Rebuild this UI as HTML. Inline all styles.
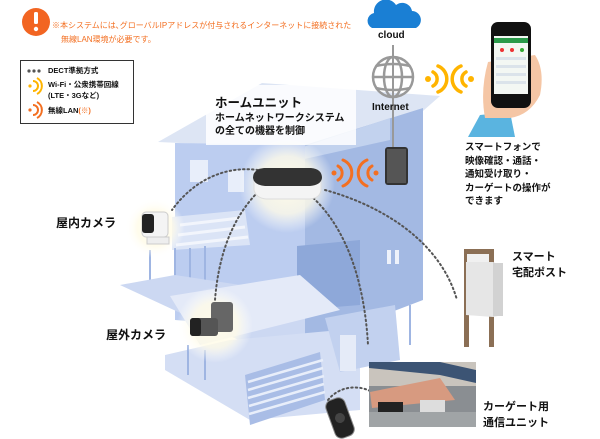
<!DOCTYPE html>
<html><head><meta charset="utf-8"><style>
html,body{margin:0;padding:0;background:#fff;}
body{width:600px;height:439px;overflow:hidden;position:relative;font-family:"Liberation Sans","Noto Sans CJK JP",sans-serif;}
.t{position:absolute;white-space:nowrap;color:#111;font-weight:bold;}
</style></head><body>
<svg width="600" height="439" style="position:absolute;left:0;top:0">
<defs>
<radialGradient id="glow"><stop offset="0" stop-color="#fffbe8"/><stop offset="0.6" stop-color="#fffbe8" stop-opacity="0.8"/><stop offset="1" stop-color="#fff" stop-opacity="0"/></radialGradient>
</defs>
<!-- roof -->
<polygon points="158,142 262,83 440,96 390,140 310,150 225,145" fill="#dde5f4"/>
<!-- right wall -->
<polygon points="305,145 423,108 423,300 305,345" fill="#a3b9e3"/>
<polygon points="300,148 390,118 390,140 300,160" fill="#c2d2ee"/>
<!-- front wall -->
<polygon points="175,143 305,145 305,330 175,320" fill="#bccdf0"/>
<rect x="190" y="160" width="18" height="22" fill="#e8eefa"/>
<rect x="228" y="170" width="16" height="22" fill="#e8eefa"/>
<!-- right lower box -->
<polygon points="297,246 360,240 360,305 297,310" fill="#8ea8d9"/>
<rect x="387" y="250" width="4" height="14" fill="#eef2fb"/><rect x="395" y="250" width="4" height="14" fill="#eef2fb"/>
<!-- pergola left -->
<polygon points="172,217 245,210 250,245 172,250" fill="#dbe4f6"/>
<g stroke="#f2f5fc" stroke-width="3"><line x1="180" y1="225" x2="240" y2="218"/><line x1="178" y1="235" x2="245" y2="227"/><line x1="176" y1="245" x2="248" y2="237"/></g>
<g stroke="#9fb5e2" stroke-width="2"><line x1="175" y1="248" x2="175" y2="282"/><line x1="190" y1="248" x2="190" y2="282"/><line x1="205" y1="246" x2="205" y2="282"/><line x1="150" y1="250" x2="150" y2="283"/></g>
<!-- platform -->
<polygon points="120,285 175,275 305,295 305,345 260,350" fill="#ccd8f2"/>
<polygon points="170,296 300,275 340,310 200,345" fill="#e4eaf8"/>
<!-- garage -->
<polygon points="165,355 230,340 340,330 360,345 360,410 250,420 165,370" fill="#d4def4"/>
<polygon points="245,375 320,352 325,400 250,425" fill="#a9bde6"/>
<g stroke="#e8eefa" stroke-width="2.5"><line x1="248" y1="382" x2="323" y2="360"/><line x1="248" y1="390" x2="323" y2="368"/><line x1="248" y1="398" x2="324" y2="376"/><line x1="249" y1="406" x2="324" y2="384"/><line x1="249" y1="414" x2="325" y2="392"/></g>
<polygon points="325,318 395,305 400,360 340,372" fill="#c2d1ef"/>
<rect x="340" y="335" width="16" height="36" fill="#e5ebf8"/>
<g stroke="#9fb5e2" stroke-width="2"><line x1="188" y1="345" x2="188" y2="375"/><line x1="205" y1="350" x2="205" y2="380"/><line x1="410" y1="305" x2="410" y2="345"/></g>
<!-- home unit text box -->
<rect x="206" y="85" width="150" height="60" fill="#fff" opacity="0.85"/>
<!-- glows -->
<circle cx="287" cy="185" r="48" fill="url(#glow)"/>
<circle cx="155" cy="228" r="30" fill="url(#glow)"/>
<circle cx="215" cy="325" r="38" fill="url(#glow)"/>
<!-- dotted lines -->
<g fill="none" stroke="#555" stroke-width="2" stroke-dasharray="1.5 3" stroke-linecap="round">
<path d="M258,170 C220,165 190,185 172,210"/>
<path d="M258,192 C230,220 218,260 215,300"/>
<path d="M310,195 C350,230 365,290 368,345"/>
<path d="M325,190 C380,205 440,240 457,300"/>
<path d="M328,400 C340,385 360,385 372,392"/>
</g>
<!-- home unit device -->
<path d="M254,180 L254,190 Q256,198 266,199 L310,199 Q320,198 321,190 L321,180 Z" fill="#f4f4f4" stroke="#ddd"/>
<path d="M253,178 Q253,169 264,168 L311,168 Q322,169 322,178 Q321,185 310,186 L265,186 Q254,185 253,178 Z" fill="#333"/>
<!-- orange wifi near unit -->
<g fill="none" stroke="#f36f21" stroke-width="3" stroke-linecap="round">
<path d="M338,166 a8,8 0 0 1 0,14"/><path d="M343,160 a14,14 0 0 1 0,26"/>
<path d="M372,166 a8,8 0 0 0 0,14"/><path d="M367,160 a14,14 0 0 0 0,26"/>
</g>
<circle cx="334" cy="173" r="2.5" fill="#f36f21"/><circle cx="376" cy="173" r="2.5" fill="#f36f21"/>
<!-- cloud -->
<path d="M372,28 a8,8 0 0 1 2,-15 a12,12 0 0 1 22,-8 a10,10 0 0 1 16,6 a9,9 0 0 1 4,17 Z" fill="#1a7fd4"/>
<!-- internet line -->
<line x1="393" y1="45" x2="393" y2="150" stroke="#999" stroke-width="2"/>
<!-- globe -->
<g fill="none" stroke="#999" stroke-width="2.5">
<circle cx="393" cy="77" r="20"/><ellipse cx="393" cy="77" rx="9" ry="20"/><line x1="373" y1="77" x2="413" y2="77"/><path d="M376,66 Q393,62 410,66"/><path d="M376,88 Q393,92 410,88"/>
</g>
<!-- router -->
<rect x="385" y="147" width="23" height="38" rx="3" fill="#333"/><rect x="387" y="149" width="19" height="34" fill="#555"/>
<!-- yellow wifi -->
<g fill="none" stroke="#ffb400" stroke-width="3.5" stroke-linecap="round">
<path d="M433,72 a8,8 0 0 1 0,14"/><path d="M438,66 a14,14 0 0 1 0,26"/>
<path d="M466,72 a8,8 0 0 0 0,14"/><path d="M461,66 a14,14 0 0 0 0,26"/>
</g>
<circle cx="428" cy="79" r="3" fill="#ffb400"/><circle cx="471" cy="79" r="3" fill="#ffb400"/>
<!-- hand + phone -->
<polygon points="468,137 480,115 510,112 515,137" fill="#5ab4e0"/>
<path d="M485,118 Q480,90 488,62 L535,55 Q545,70 540,95 Q530,115 510,118 Z" fill="#f5c6a5"/>
<rect x="491" y="22" width="40" height="86" rx="7" fill="#111"/>
<rect x="494" y="36" width="34" height="58" fill="#f3f7f3"/>
<rect x="494" y="38" width="34" height="5" fill="#2a9a4a"/>
<g fill="#e33"><circle cx="502" cy="50" r="2"/><circle cx="512" cy="50" r="2"/></g><circle cx="522" cy="50" r="2" fill="#3a3"/>
<g fill="#dbe3ea"><rect x="496" y="57" width="30" height="3"/><rect x="496" y="65" width="30" height="3"/><rect x="496" y="73" width="30" height="3"/><rect x="496" y="81" width="30" height="3"/></g>
<!-- indoor camera -->
<rect x="142" y="212" width="26" height="25" rx="4" fill="#f4f4f4" stroke="#ccc"/>
<rect x="142" y="214" width="12" height="19" rx="3" fill="#222"/>
<rect x="147" y="237" width="22" height="7" fill="#eee" stroke="#ccc"/>
<!-- outdoor camera -->
<rect x="211" y="302" width="22" height="30" rx="3" fill="#666"/>
<rect x="190" y="318" width="28" height="18" rx="3" fill="#555"/>
<rect x="190" y="318" width="11" height="18" rx="3" fill="#222"/>
<!-- post -->
<rect x="464" y="249" width="5" height="98" fill="#8b6f55"/><rect x="489" y="249" width="5" height="98" fill="#8b6f55"/>
<rect x="464" y="249" width="30" height="5" fill="#8b6f55"/>
<rect x="467" y="254" width="22" height="8" fill="#f0f0f0"/>
<polygon points="466,262 493,262 503,266 503,315 493,317 466,315" fill="#e6e6e6"/>
<rect x="493" y="263" width="10" height="53" fill="#d2d2d2"/>
<!-- carport photo -->
<rect x="369" y="362" width="107" height="65" fill="#8a8e92"/>
<rect x="369" y="362" width="107" height="24" fill="#c9c4bd"/>
<polygon points="369,368 440,375 476,383 476,370 440,362 369,362" fill="#3c5474"/>
<polygon points="370,392 440,378 455,400 372,408" fill="#d79a80"/>
<rect x="378" y="402" width="25" height="12" fill="#222"/><rect x="420" y="400" width="25" height="12" fill="#ddd"/>
<rect x="369" y="412" width="107" height="15" fill="#a0a4a6"/>
<!-- remote -->
<g transform="rotate(-20 340 418)"><rect x="330" y="398" width="20" height="40" rx="7" fill="#222" stroke="#888"/><circle cx="340" cy="418" r="5" fill="#444"/></g>
<!-- warning icon -->
<circle cx="36" cy="22" r="14" fill="#f26522"/>
<rect x="34" y="12" width="4" height="12" rx="1.5" fill="#fff"/><circle cx="36" cy="29" r="2.2" fill="#fff"/>
<!-- legend -->
<rect x="20.5" y="60.5" width="113" height="63" fill="#fff" stroke="#333"/>
<g fill="#555"><circle cx="29" cy="71" r="1.6"/><circle cx="34" cy="71" r="1.6"/><circle cx="39" cy="71" r="1.6"/></g>
<g fill="none" stroke="#ffb400" stroke-width="2"><path d="M33,81 a5,5 0 0 1 0,10"/><path d="M37,78 a9,9 0 0 1 0,16"/></g><circle cx="30" cy="86" r="1.6" fill="#ffb400"/>
<g fill="none" stroke="#f36f21" stroke-width="2"><path d="M33,105 a5,5 0 0 1 0,10"/><path d="M37,102 a9,9 0 0 1 0,16"/></g><circle cx="30" cy="110" r="1.6" fill="#f36f21"/>
</svg>
<div class="t" style="left:52px;top:20px;font-size:8px;color:#f36f21;font-weight:normal;">※本システムには､グローバルIPアドレスが付与されるインターネットに接続された</div>
<div class="t" style="left:61px;top:34px;font-size:8px;color:#f36f21;font-weight:normal;">無線LAN環境が必要です。</div>
<div class="t" style="left:48px;top:65px;font-size:7.5px;">DECT準拠方式</div>
<div class="t" style="left:48px;top:79px;font-size:7.5px;line-height:11px;">Wi-Fi・公衆携帯回線<br>(LTE・3Gなど)</div>
<div class="t" style="left:48px;top:105px;font-size:7.5px;">無線LAN<span style="color:#f36f21">(※)</span></div>
<div class="t" style="left:215px;top:92px;font-size:12.5px;">ホームユニット</div>
<div class="t" style="left:215px;top:112px;font-size:10px;line-height:13px;">ホームネットワークシステム<br>の全ての機器を制御</div>
<div class="t" style="left:378px;top:30px;font-size:10px;">cloud</div>
<div class="t" style="left:372px;top:102px;font-size:10px;">Internet</div>
<div class="t" style="left:465px;top:141px;font-size:9.5px;line-height:13.5px;">スマートフォンで<br>映像確認・通話・<br>通知受け取り・<br>カーゲートの操作が<br>できます</div>
<div class="t" style="left:56px;top:214px;font-size:12px;">屋内カメラ</div>
<div class="t" style="left:106px;top:326px;font-size:12px;">屋外カメラ</div>
<div class="t" style="left:512px;top:249px;font-size:11px;line-height:16px;">スマート<br>宅配ポスト</div>
<div class="t" style="left:483px;top:399px;font-size:11px;line-height:16px;">カーゲート用<br>通信ユニット</div>
</body></html>
